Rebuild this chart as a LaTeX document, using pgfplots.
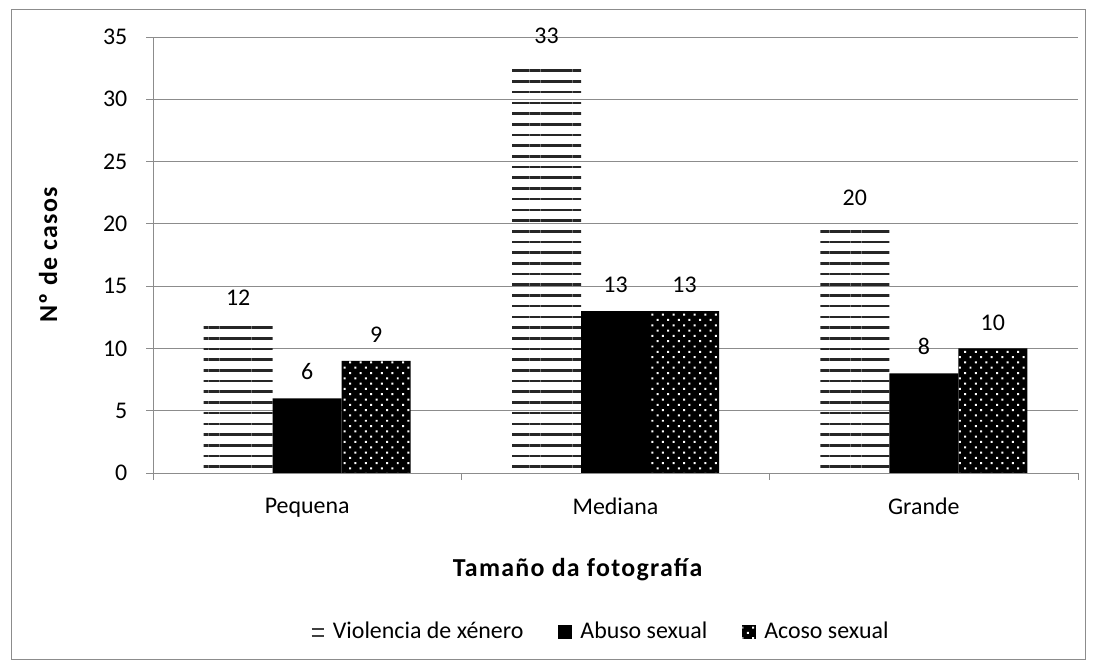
\documentclass[border=0pt]{standalone}
\usepackage{fontspec}
\setmainfont{Carlito}
\newfontfamily\titlefont[LetterSpace=5]{Carlito}
\usepackage{pgfplots}
\pgfplotsset{compat=1.18}
\usetikzlibrary{patterns.meta}
\begin{document}
\fontsize{24}{29}\selectfont
\begin{tikzpicture}[font=\fontsize{24}{29}\selectfont]
\path (0bp,0bp) rectangle (1095bp,670bp);
\draw[black!45, line width=1bp] (11bp,10bp) rectangle (1085bp,660bp);
\begin{axis}[
  at={(153bp,197bp)}, anchor=south west,
  scale only axis, width=925bp, height=436bp,
  ymin=0, ymax=35, xmin=-0.5, xmax=2.5,
  ytick={0,5,...,35},
  ymajorgrids, grid style={black!45, line width=0.8bp},
  axis x line*=bottom, axis y line*=left,
  axis line style={black!45, line width=0.8bp, -},
  tick style={black!45, line width=0.8bp},
  tick align=outside, major tick length=6.5bp,
  yticklabel style={xshift=-11bp},
  xtick={-0.5,0.5,1.5,2.5}, xticklabels={},
  extra x ticks={0,1,2},
  extra x tick labels={Pequena,Mediana,Grande},
  extra x tick style={major tick length=0pt, grid=none, xticklabel style={yshift=-17bp}},
  /pgf/number format/assume math mode=true,
  ybar=0pt, bar width=69bp,
  nodes near coords,
  every node near coord/.append style={yshift=10bp, font=\fontsize{24}{29}\selectfont, text=black},
  xlabel={\titlefont\fontsize{26}{31}\selectfont\bfseries Tamaño da fotografía},
  ylabel={\titlefont\fontsize{26}{31}\selectfont\bfseries Nº de casos},
  xlabel style={at={(axis description cs:0.459,-0.222)}, anchor=center},
  ylabel style={at={(axis description cs:-0.1135,0.5)}, anchor=center},
  legend columns=3,
  legend style={at={(axis description cs:0.484,-0.365)}, anchor=center, draw=none, fill=none,
    /tikz/every even column/.append style={column sep=33bp},
    /tikz/every odd column/.append style={column sep=6bp}},
  legend image code/.code={\path[#1, draw=none] (0bp,-7bp) rectangle (14bp,7bp);},
]
\addplot[draw=none, pattern={Lines[angle=0, distance=10.7bp, line width=2.6bp]}, pattern color=black!85,
  legend image code/.code={\draw[black!75, line width=2bp] (1bp,-3.5bp) -- (13bp,-3.5bp) (1bp,3.5bp) -- (13bp,3.5bp);}]
  coordinates {(0,12) (1,33) (2,20)};
\addplot[draw=none, fill=black]
  coordinates {(0,6) (1,13) (2,8)};
\addplot[draw=none, fill=black, postaction={pattern={Dots[distance=7.5bp, angle=45, radius=1.4bp]}, pattern color=white}]
  coordinates {(0,9) (1,13) (2,10)};
\legend{Violencia de xénero, Abuso sexual, Acoso sexual}
\end{axis}
\end{tikzpicture}
\end{document}
